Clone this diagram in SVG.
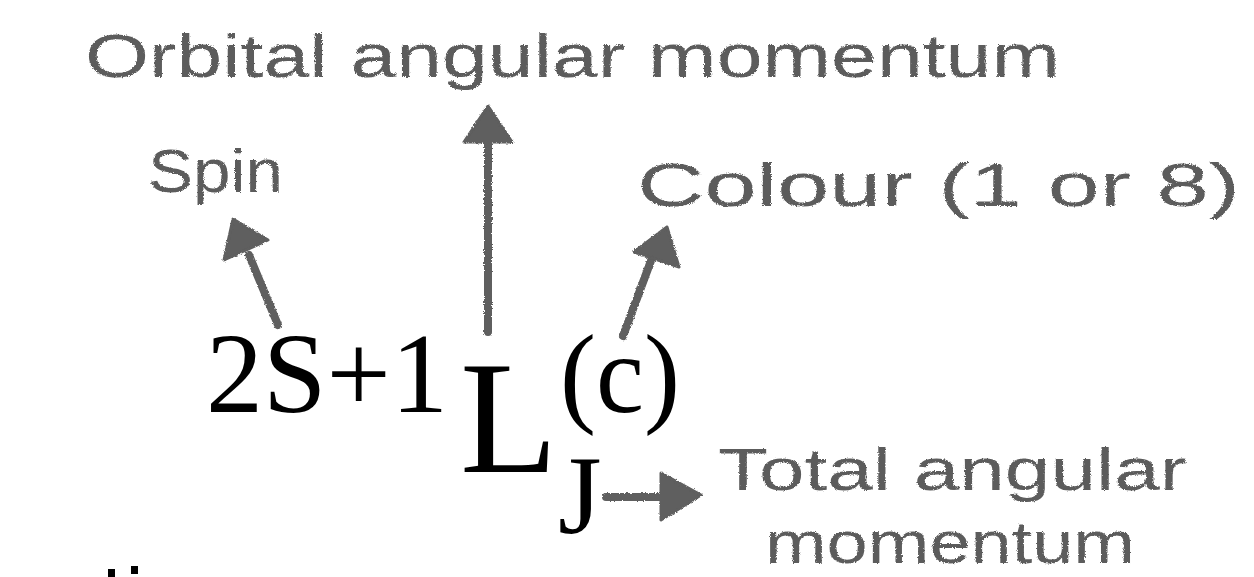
<svg xmlns="http://www.w3.org/2000/svg" width="1254" height="577" viewBox="0 0 1254 577">
  <defs>
    <filter id="rough" x="-5%" y="-5%" width="110%" height="110%">
      <feTurbulence type="fractalNoise" baseFrequency="0.9" numOctaves="2" seed="3" result="n"/>
      <feDisplacementMap in="SourceGraphic" in2="n" scale="3" xChannelSelector="R" yChannelSelector="G"/>
    </filter>
  </defs>
  <style>
    .lbl { font-family: "Liberation Sans", Arial, sans-serif; font-size: 62px; fill: #5c5c5c; }
    .lbl2 { font-family: "Liberation Sans", Arial, sans-serif; font-size: 60px; fill: #5c5c5c; }
    .math { font-family: "Liberation Serif", "Times New Roman", serif; fill: #000000; }
    .shaft { stroke: #5e5e5e; stroke-width: 8; stroke-linecap: round; fill: none; }
    .head { fill: #5e5e5e; stroke: #5e5e5e; stroke-width: 3; stroke-linejoin: round; }
  </style>
  <rect width="1254" height="577" fill="#ffffff"/>

  <g id="label-orbital" filter="url(#rough)">
    <text class="lbl" x="85" y="77" textLength="975" lengthAdjust="spacingAndGlyphs">Orbital angular momentum</text>
  </g>
  <g id="label-spin" filter="url(#rough)">
    <text class="lbl" x="148" y="192" textLength="135" lengthAdjust="spacingAndGlyphs">Spin</text>
  </g>
  <g id="label-colour" filter="url(#rough)">
    <text class="lbl" x="637" y="206" textLength="603" lengthAdjust="spacingAndGlyphs">Colour (1 or 8)</text>
  </g>
  <g id="label-total" filter="url(#rough)">
    <text class="lbl2" x="718" y="490" textLength="469" lengthAdjust="spacingAndGlyphs">Total angular</text>
    <text class="lbl2" x="765" y="563" textLength="370" lengthAdjust="spacingAndGlyphs">momentum</text>
  </g>

  <g id="formula">
    <text class="math" x="206" y="412" font-size="114" textLength="242" lengthAdjust="spacingAndGlyphs">2S+1</text>
    <text class="math" x="460" y="472" font-size="160">L</text>
    <text class="math" x="560" y="412" font-size="112" textLength="120" lengthAdjust="spacingAndGlyphs">(c)</text>
    <text class="math" x="558" y="533" font-size="112">J</text>
  </g>

  <g id="connectors" filter="url(#rough)">
    <g id="arrow-spin">
      <line class="shaft" x1="278" y1="325" x2="249" y2="255"/>
      <polygon class="head" points="233,219 224,260 268,240"/>
    </g>
    <g id="arrow-orbital">
      <line class="shaft" x1="488" y1="332" x2="488" y2="140"/>
      <polygon class="head" points="488,106 464,142 512,142"/>
    </g>
    <g id="arrow-colour">
      <line class="shaft" x1="623" y1="336" x2="652" y2="258"/>
      <polygon class="head" points="667,227 634,252 679,267"/>
    </g>
    <g id="arrow-total">
      <line class="shaft" x1="606" y1="497" x2="664" y2="497"/>
      <polygon class="head" points="661,473 701,495 661,520"/>
    </g>
  </g>

  <g id="cut-dots" fill="#000000">
    <rect x="108" y="569" width="7" height="8"/>
    <rect x="131" y="566" width="7" height="8"/>
  </g>
</svg>
